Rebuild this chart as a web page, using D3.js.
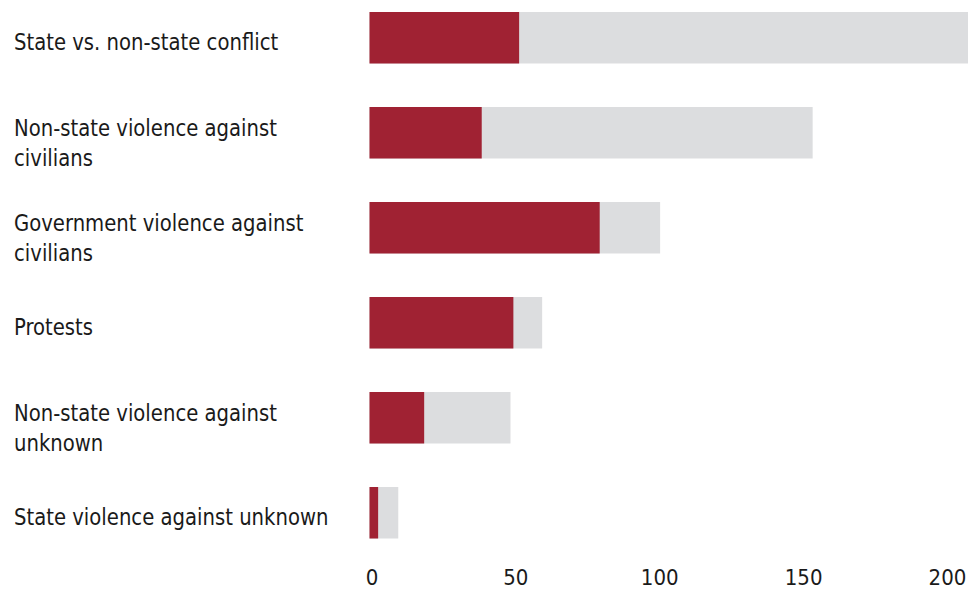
<!DOCTYPE html>
<html>
<head>
<meta charset="utf-8">
<script src="https://cdn.jsdelivr.net/npm/d3@7"></script>
<style>
  body { margin: 0; background: #fff; }
  text { font-family: "Liberation Sans Narrow", "DejaVu Sans Condensed", sans-serif; fill: #1a1a1a; }
</style>
</head>
<body>
<svg class="chart"></svg>
<script>
// categories, top to bottom (label lines)
var categories = [
  ["State vs. non-state conflict"],
  ["Non-state violence against", "civilians"],
  ["Government violence against", "civilians"],
  ["Protests"],
  ["Non-state violence against", "unknown"],
  ["State violence against unknown"]
];
var totals = [208, 154, 101, 60, 49, 10];
var highlighted = [52, 39, 80, 50, 19, 3];
var tickValues = [0, 50, 100, 150, 200];

var drawChart = function(w, h, c)
{
  var screen = { width: w, height: h };

  var svg = d3.select(c)
              .attr("width", screen.width)
              .attr("height", screen.height);

  var keys = categories.map(function(d, i) { return "c" + i; });

  var xScale = d3.scaleLinear()
                 .domain([0, 200])
                 .range([369.5, 945]);

  var yScale = d3.scaleBand()
                 .domain(keys)
                 .range([12, 538.5])
                 .paddingInner(0.458)
                 .paddingOuter(0);

  var rows = categories.map(function(d, i) {
    return { key: keys[i], lines: d, total: totals[i], part: highlighted[i] };
  });

  // grey total bars
  svg.append("g").attr("class", "totals")
     .selectAll("rect")
     .data(rows)
     .enter()
     .append("rect")
     .attr("x", xScale(0))
     .attr("y", function(d) { return yScale(d.key); })
     .attr("width", function(d) { return xScale(d.total) - xScale(0); })
     .attr("height", yScale.bandwidth())
     .attr("fill", "#dcdddf");

  // red overlay
  svg.append("g").attr("class", "parts")
     .selectAll("rect")
     .data(rows)
     .enter()
     .append("rect")
     .attr("x", xScale(0))
     .attr("y", function(d) { return yScale(d.key); })
     .attr("width", function(d) { return xScale(d.part) - xScale(0); })
     .attr("height", yScale.bandwidth())
     .attr("fill", "#a02233");

  // category labels (squeezed a bit to look like the condensed face)
  var labels = svg.append("g").attr("class", "labels")
     .attr("transform", "translate(14,0) scale(0.95,1)")
     .selectAll("text")
     .data(rows)
     .enter()
     .append("text")
     .attr("x", 0)
     .attr("y", function(d) {
       var mid = yScale(d.key) + yScale.bandwidth() / 2;
       return d.lines.length > 1 ? mid + 3.5 : mid + 12;
     })
     .style("font-size", "23px");

  labels.selectAll("tspan")
     .data(function(d) { return d.lines; })
     .enter()
     .append("tspan")
     .attr("x", 0)
     .attr("dy", function(d, i) { return i === 0 ? 0 : 29.5; })
     .text(function(d) { return d; });

  // x axis, labels only
  var xAxis = d3.axisBottom(xScale)
                .tickValues(tickValues)
                .tickSize(0)
                .tickPadding(0);

  var ax = svg.append("g").classed("xAxis", true)
              .attr("transform", "translate(2,569)")
              .call(xAxis);
  ax.select(".domain").remove();
  ax.selectAll("text")
    .attr("dy", "0.71em")
    .style("font-size", "22px")
    .attr("fill", "#1a1a1a");
}

drawChart(973, 597, ".chart");
</script>
</body>
</html>
